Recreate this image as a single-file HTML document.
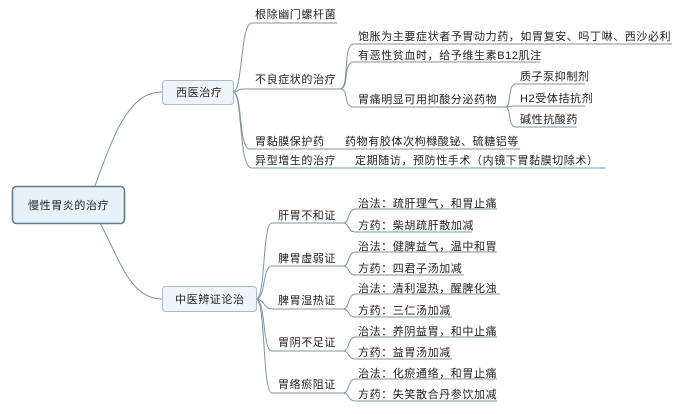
<!DOCTYPE html>
<html><head><meta charset="utf-8"><style>
html,body{margin:0;padding:0;background:#fff;}
svg text{font-family:"Liberation Sans","Noto Sans CJK SC",sans-serif;font-size:11px;fill:#222;letter-spacing:0.6px;}
</style></head><body>
<svg width="682" height="409" viewBox="0 0 682 409" xmlns="http://www.w3.org/2000/svg">
<g fill="none" stroke="#7f95a0" stroke-width="1">
<path d="M95 186 C115 130,130 92,162 92"/>
<path d="M100 223 C120 260,130 299,162 299"/>
<path d="M233 92 C243 92,240 23,252 23 L337 23"/>
<path d="M233 92 C240 92,235 89,245 89 L340 89"/>
<path d="M233 92 C243 92,238 149,250 149 L520 149"/>
<path d="M233 92 C243 92,238 168,252 168 L605 168"/>
<path d="M340 89 C350 89,342 44,354 44 L672 44"/>
<path d="M340 89 C350 89,342 62,354 62 L540 62"/>
<path d="M340 89 C350 89,342 107,354 107 L505 107"/>
<path d="M505 107 C512 107,507 84,516 84 L585 84"/>
<path d="M505 107 C512 107,507 106,516 106 L585 106"/>
<path d="M505 107 C512 107,507 127,516 127 L577 127"/>
<path d="M256 299 C266 299,262 223,272 223 L343 223"/>
<path d="M256 299 C266 299,262 266,272 266 L343 266"/>
<path d="M256 299 C264 299,264 309,272 309 L343 309"/>
<path d="M256 299 C266 299,262 351,272 351 L343 351"/>
<path d="M256 299 C266 299,262 393,272 393 L343 393"/>
<path d="M343 223 C350 223,347 209,356 209 L497 209"/><path d="M343 223 C350 223,347 232,356 232 L472 232"/>
<path d="M343 266 C350 266,347 252,356 252 L497 252"/><path d="M343 266 C350 266,347 275,356 275 L464 275"/>
<path d="M343 309 C350 309,347 294,356 294 L500 294"/><path d="M343 309 C350 309,347 317,356 317 L452 317"/>
<path d="M343 351 C350 351,347 337,356 337 L497 337"/><path d="M343 351 C350 351,347 359,356 359 L452 359"/>
<path d="M343 393 C350 393,347 379,356 379 L497 379"/><path d="M343 393 C350 393,347 401,356 401 L497 401"/>
</g>
<rect x="12.5" y="186.5" width="112" height="37" rx="4" fill="#e6f1f9" stroke="#5e7d8c" stroke-width="1.6"/>
<rect x="162.5" y="80.5" width="71" height="24" rx="3" fill="#eef4f9" stroke="#a9bcc8"/>
<rect x="162.5" y="286.5" width="94" height="25" rx="3" fill="#eef4f9" stroke="#a9bcc8"/>
<text x="28" y="209">慢性胃炎的治疗</text>
<text x="176" y="96">西医治疗</text>
<text x="175" y="303">中医辨证论治</text>
<text x="255" y="18">根除幽门螺杆菌</text>
<text x="255" y="83">不良症状的治疗</text>
<text x="255" y="145">胃黏膜保护药</text>
<text x="345" y="145">药物有胶体次枸橼酸铋、硫糖铝等</text>
<text x="255" y="164">异型增生的治疗</text>
<text x="355" y="164">定期随访，预防性手术（内镜下胃黏膜切除术）</text>
<text x="358" y="40">饱胀为主要症状者予胃动力药，如胃复安、吗丁啉、西沙必利</text>
<text x="358" y="59">有恶性贫血时，给予维生素B12肌注</text>
<text x="358" y="103">胃痛明显可用抑酸分泌药物</text>
<text x="520" y="80">质子泵抑制剂</text>
<text x="520" y="102">H2受体拮抗剂</text>
<text x="520" y="123">碱性抗酸药</text>
<text x="278" y="219">肝胃不和证</text>
<text x="278" y="262">脾胃虚弱证</text>
<text x="278" y="304">脾胃湿热证</text>
<text x="278" y="346">胃阴不足证</text>
<text x="278" y="388">胃络瘀阻证</text>
<text x="358" y="207">治法：疏肝理气，和胃止痛</text>
<text x="358" y="229">方药：柴胡疏肝散加减</text>
<text x="358" y="250">治法：健脾益气，温中和胃</text>
<text x="358" y="272">方药：四君子汤加减</text>
<text x="358" y="292">治法：清利湿热，醒脾化浊</text>
<text x="358" y="314">方药：三仁汤加减</text>
<text x="358" y="335">治法：养阴益胃，和中止痛</text>
<text x="358" y="356">方药：益胃汤加减</text>
<text x="358" y="377">治法：化瘀通络，和胃止痛</text>
<text x="358" y="398">方药：失笑散合丹参饮加减</text>
</svg>
</body></html>
